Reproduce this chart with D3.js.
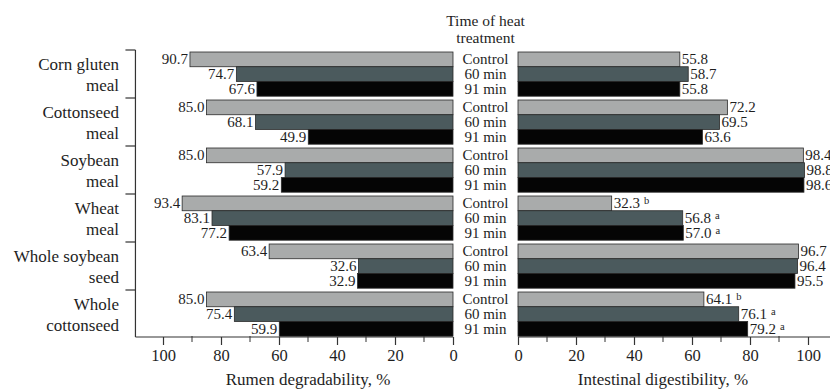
<!DOCTYPE html>
<html>
<head>
<meta charset="utf-8">
<script src="https://cdn.jsdelivr.net/npm/d3@7"></script>
<style>
  html, body { margin: 0; padding: 0; background: #fff; }
  svg { display: block; }
</style>
</head>
<body>
<svg id="chart" width="830" height="389"></svg>
<script>
// Feed ingredients (two-line labels) and heat-treatment times
const categories = ["Corn gluten meal", "Cottonseed meal", "Soybean meal", "Wheat meal", "Whole soybean seed", "Whole cottonseed"];
const categoryLines = [["Corn gluten", "meal"], ["Cottonseed", "meal"], ["Soybean", "meal"], ["Wheat", "meal"], ["Whole soybean", "seed"], ["Whole", "cottonseed"]];
const treatments = ["Control", "60 min", "91 min"];

// Rumen degradability, %
const rumenControl = [90.7, 85.0, 85.0, 93.4, 63.4, 85.0];
const rumen60 = [74.7, 68.1, 57.9, 83.1, 32.6, 75.4];
const rumen91 = [67.6, 49.9, 59.2, 77.2, 32.9, 59.9];

// Intestinal digestibility, %
const intestControl = [55.8, 72.2, 98.4, 32.3, 96.7, 64.1];
const intest60 = [58.7, 69.5, 98.8, 56.8, 96.4, 76.1];
const intest91 = [55.8, 63.6, 98.6, 57.0, 95.5, 79.2];

// Significance letters on intestinal digestibility
const lettersControl = ["", "", "", "b", "", "b"];
const letters60 = ["", "", "", "a", "", "a"];
const letters91 = ["", "", "", "a", "", "a"];

const majorTicks = [0, 20, 40, 60, 80, 100];
const minorTicks = [10, 30, 50, 70, 90];

const SERIF = '"Liberation Serif", "Times New Roman", Times, "DejaVu Serif", serif';
const INK = "#1e1e1e";

const rumenSeries = [rumenControl, rumen60, rumen91];
const intestSeries = [intestControl, intest60, intest91];
const letterSeries = [lettersControl, letters60, letters91];
const colors = ["#a9abab", "#4b5a5d", "#050505"];

const rows = [];
categories.forEach((c, i) => {
  treatments.forEach((t, j) => {
    rows.push({ cat: c, trt: t, j, rumen: rumenSeries[j][i], intest: intestSeries[j][i], letter: letterSeries[j][i] });
  });
});

const svg = d3.select("#chart")
  .attr("font-family", SERIF)
  .style("font-family", SERIF);

const xL = d3.scaleLinear().domain([0, 100]).range([453, 163]);
const xR = d3.scaleLinear().domain([0, 100]).range([518, 808]);
const y = d3.scaleBand().domain(categories).range([50, 338]).padding(0);
const yInner = d3.scaleBand().domain(treatments).range([2, y.bandwidth() - 1.8]).padding(0);
const axisY = 337;
const leftEdge = xL(109.5);

function txt(sel, size) {
  return sel.style("font-family", SERIF).style("font-size", size).attr("fill", INK);
}
const rowMid = d => y(d.cat) + yInner(d.trt) + yInner.bandwidth() / 2;

// Bars
const barG = svg.append("g");
barG.selectAll("rect.l").data(rows).join("rect")
  .attr("x", d => xL(d.rumen))
  .attr("y", d => y(d.cat) + yInner(d.trt))
  .attr("width", d => xL(0) - xL(d.rumen))
  .attr("height", yInner.bandwidth())
  .attr("fill", d => colors[d.j])
  .attr("stroke", "#2a2a2a").attr("stroke-width", 0.8);

barG.selectAll("rect.r").data(rows).join("rect")
  .attr("x", xR(0))
  .attr("y", d => y(d.cat) + yInner(d.trt))
  .attr("width", d => xR(d.intest) - xR(0))
  .attr("height", yInner.bandwidth())
  .attr("fill", d => colors[d.j])
  .attr("stroke", "#2a2a2a").attr("stroke-width", 0.8);

// Value labels
const lblG = svg.append("g");
txt(lblG.selectAll("text.l").data(rows).join("text"), "15px")
  .attr("x", d => xL(d.rumen) - 2)
  .attr("y", d => rowMid(d) + 5)
  .attr("text-anchor", "end")
  .text(d => d.rumen.toFixed(1));

const rTxt = txt(lblG.selectAll("text.r").data(rows).join("text"), "15px")
  .attr("x", d => xR(d.intest) + 2)
  .attr("y", d => rowMid(d) + 5);
rTxt.append("tspan").text(d => d.intest.toFixed(1));
rTxt.filter(d => d.letter).append("tspan")
  .attr("dx", 4).attr("dy", -4)
  .style("font-size", "10.5px")
  .text(d => d.letter);

// Treatment labels in the centre column
txt(svg.append("g").selectAll("text").data(rows).join("text"), "15px")
  .attr("x", (xL(0) + xR(0)) / 2)
  .attr("y", d => rowMid(d) + 5)
  .attr("text-anchor", "middle")
  .text(d => d.trt);

txt(svg.append("g").selectAll("text").data(["Time of heat", "treatment"]).join("text"), "15.5px")
  .attr("text-anchor", "middle")
  .attr("x", (xL(0) + xR(0)) / 2)
  .attr("y", (d, i) => 26 + i * 16.5)
  .text(d => d);

// Category labels
const catG = svg.append("g");
categories.forEach((c, i) => {
  txt(catG.append("text"), "17px").attr("text-anchor", "end")
    .attr("x", 119).attr("y", y(c) + 20).text(categoryLines[i][0]);
  txt(catG.append("text"), "17px").attr("text-anchor", "end")
    .attr("x", 119).attr("y", y(c) + 41).text(categoryLines[i][1]);
});

// Vertical axis with group boundary ticks
const ax = svg.append("g").attr("stroke", "#333").attr("stroke-width", 1.2);
ax.append("line").attr("x1", leftEdge).attr("x2", leftEdge).attr("y1", y.range()[0]).attr("y2", axisY);
ax.selectAll("line.gt").data(categories).join("line")
  .attr("x1", leftEdge - 10).attr("x2", leftEdge)
  .attr("y1", d => y(d)).attr("y2", d => y(d));

// Bottom axes
function bottomAxis(scale, endVal) {
  const g = svg.append("g").attr("transform", `translate(0,${axisY})`);
  g.call(d3.axisBottom(scale).tickValues(majorTicks).tickSize(8).tickSizeOuter(0).tickPadding(4));
  g.attr("font-family", SERIF);
  g.select(".domain").remove();
  g.append("line")
    .attr("x1", scale(0)).attr("x2", scale(endVal))
    .attr("stroke", "#333").attr("stroke-width", 1.2);
  g.selectAll(".tick line").attr("stroke", "#333").attr("stroke-width", 1.2);
  txt(g.selectAll(".tick text"), "16.5px");
  g.selectAll("line.minor").data(minorTicks).join("line")
    .attr("x1", d => scale(d)).attr("x2", d => scale(d))
    .attr("y1", -1).attr("y2", 5)
    .attr("stroke", "#333").attr("stroke-width", 1);
  return g;
}
bottomAxis(xL, 109.5);
bottomAxis(xR, 110);

// Axis titles
txt(svg.append("text"), "17px").attr("x", xL(50)).attr("y", 385).attr("text-anchor", "middle")
  .text("Rumen degradability, %");
txt(svg.append("text"), "17px").attr("x", xR(50)).attr("y", 385).attr("text-anchor", "middle")
  .text("Intestinal digestibility, %");
</script>
</body>
</html>
